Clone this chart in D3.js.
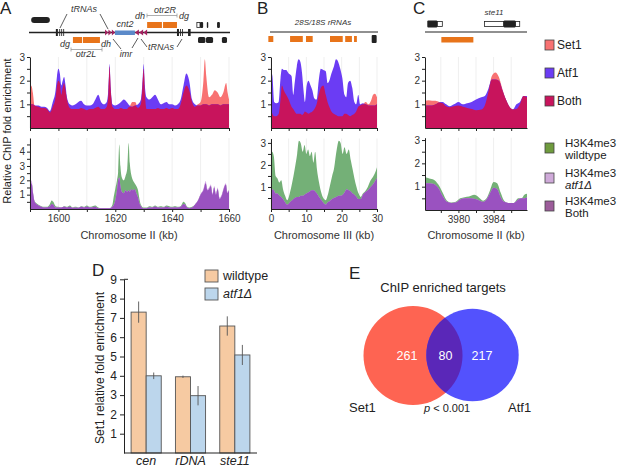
<!DOCTYPE html>
<html>
<head>
<meta charset="utf-8">
<script src="https://cdn.jsdelivr.net/npm/d3@7"></script>
<style>
  body { margin: 0; background: #fff; }
  svg { font-family: "Liberation Sans", Arial, sans-serif; }
</style>
</head>
<body>
<svg id="fig" width="617" height="468"></svg>
<script>
// ---- profile data: [kb, first series, second series] ----
const trackA = [
  [1590,1.0,1.0],[1590.5,1.8,1.0],[1591,1.5,1.0],[1591.6,0.95,0.95],[1593,0.9,0.95],[1594,0.85,0.9],
  [1595,0.85,0.9],[1596,0.8,0.85],[1597,0.65,0.72],[1598,0.9,1.1],[1599,1.3,1.6],[1599.5,1.8,2.2],
  [1600,2.0,2.5],[1600.5,1.9,2.3],[1601,1.4,1.8],[1601.5,1.7,2.0],[1602,1.9,2.15],[1602.5,1.6,1.8],
  [1603,1.2,1.3],[1604,0.85,1.0],[1605,0.8,0.95],[1606,0.8,1.0],[1607,0.8,1.1],[1608,0.85,1.15],
  [1609,0.8,1.0],[1610,0.75,0.95],[1611,0.8,0.95],[1612,0.8,1.0],[1613,0.85,1.2],[1614,0.9,1.4],
  [1615,0.8,1.1],[1616,0.8,1.0],[1617,0.9,1.1],[1617.6,1.5,1.7],[1618,2.6,2.7],[1618.4,1.6,1.7],
  [1619,0.9,1.0],[1620,0.8,0.95],[1621,0.8,1.0],[1622,0.85,1.1],[1623,0.8,1.2],[1624,0.8,1.1],
  [1625,0.9,0.95],[1626,1.1,0.9],[1627,1.1,0.95],[1628,0.85,1.0],[1629,1.0,1.2],[1629.6,1.8,2.0],
  [1630,2.5,2.7],[1630.4,1.5,1.8],[1631,0.8,1.3],[1632,0.8,1.2],[1633,0.8,1.3],[1634,0.8,1.4],
  [1635,0.85,1.2],[1636,0.8,1.0],[1637,0.8,1.05],[1638,0.85,1.1],[1639,0.8,1.0],[1640,0.85,1.0],
  [1641,0.8,0.95],[1642,0.8,1.0],[1643,1.0,1.2],[1644,1.5,1.8],[1645,1.8,2.3],[1646,1.6,2.0],
  [1647,1.1,1.2],[1648,0.9,1.0],[1649,1.0,0.95],[1650,1.1,0.95],[1651,2.0,1.0],[1651.5,2.9,1.0],
  [1652,2.2,1.0],[1653,1.3,0.95],[1654,1.4,1.0],[1655,1.6,1.0],[1656,1.5,1.0],[1657,1.3,0.95],
  [1658,1.5,1.0],[1659,1.9,1.0],[1659.5,1.5,1.0],[1660,1.2,1.0]
];
const trackAh = [
  [1590,1.2,1.4],[1590.6,1.8,2.0],[1591,1.2,1.3],[1591.5,0.6,0.6],[1592,0.45,0.4],[1593,0.3,0.25],
  [1594,0.2,0.15],[1595,0.15,0.1],[1596,0.15,0.12],[1597,0.35,0.2],[1597.6,0.6,0.35],[1598.2,0.5,0.3],
  [1599,0.2,0.1],[1600,0.15,0.1],[1601,0.1,0.1],[1602,0.2,0.15],[1603,0.15,0.1],[1604,0.25,0.15],
  [1605,0.1,0.08],[1606,0.15,0.1],[1607,0.1,0.08],[1608,0.2,0.15],[1609,0.15,0.1],[1610,0.25,0.15],
  [1611,0.15,0.1],[1612,0.2,0.12],[1613,0.25,0.15],[1614,0.1,0.05],[1615,0.05,0.05],[1616,0.05,0.05],
  [1617,0.05,0.05],[1618,0.05,0.05],[1619,0.3,0.15],[1619.5,0.9,0.3],[1620,1.4,0.6],[1620.6,2.0,1.3],
  [1621,2.6,2.0],[1621.4,4.5,2.2],[1621.8,3.0,1.6],[1622.3,2.2,1.2],[1623,2.0,1.1],[1623.6,2.3,1.3],
  [1624.2,2.8,1.2],[1624.7,4.6,1.3],[1625.1,3.2,1.2],[1625.6,2.4,1.4],[1626.2,2.0,1.3],[1626.8,1.8,1.4],
  [1627.4,1.6,1.1],[1628,1.3,0.8],[1628.5,0.7,0.4],[1629,0.3,0.2],[1630,0.1,0.05],[1631,0.1,0.05],
  [1632,0.2,0.1],[1633,0.15,0.1],[1634,0.25,0.15],[1635,0.15,0.1],[1636,0.2,0.1],[1637,0.15,0.1],
  [1638,0.25,0.15],[1639,0.2,0.1],[1640,0.15,0.1],[1641,0.2,0.12],[1642,0.15,0.1],[1643,0.2,0.15],
  [1644,0.5,0.35],[1644.6,0.4,0.3],[1645.3,0.15,0.1],[1646,0.1,0.05],[1647,0.15,0.1],[1648,0.3,0.3],
  [1649,0.55,0.6],[1650,1.0,1.05],[1651,1.3,1.4],[1651.8,1.8,1.95],[1652.4,1.3,1.4],[1653,1.4,1.5],
  [1653.6,1.6,1.7],[1654.2,1.0,1.1],[1654.8,1.5,1.6],[1655.4,1.0,1.1],[1656,1.4,1.5],[1656.7,0.7,0.8],
  [1657.4,0.9,1.0],[1658.3,1.5,1.6],[1658.9,1.7,1.8],[1659.4,1.1,1.2],[1660,1.3,1.3]
];
const trackB = [
  [0,0.8,2.4],[0.4,0.6,2.2],[0.9,0.5,1.1],[1.5,0.5,1.05],[2.2,0.6,1.1],[2.7,1.2,2.1],[3.1,1.8,2.5],
  [3.6,1.6,2.45],[4.3,1.4,2.45],[5,1.2,2.3],[5.8,0.9,2.2],[6.3,0.8,1.4],[6.7,0.7,1.9],[7.3,0.6,2.6],
  [7.8,0.6,2.9],[8.3,0.6,2.8],[8.8,0.55,2.3],[9.2,0.6,1.6],[9.6,0.7,1.1],[10.1,0.65,1.8],[10.6,0.6,2.0],
  [11.2,0.65,1.8],[11.7,0.7,1.6],[12.3,0.8,1.25],[12.9,1.0,1.2],[13.5,1.4,2.0],[14.1,1.7,2.5],
  [14.8,1.8,2.45],[15.5,1.4,2.4],[16,1.1,1.9],[16.5,0.9,2.0],[17.1,0.7,2.3],[17.8,0.6,2.6],[18.4,0.55,2.9],
  [19,0.5,2.8],[19.6,0.5,2.5],[20.2,0.5,2.1],[20.8,0.6,1.4],[21.3,0.6,1.3],[21.8,0.55,1.9],[22.4,0.5,2.0],
  [23,0.55,1.7],[23.6,0.6,1.1],[24.1,0.7,1.0],[24.7,0.9,1.4],[25.2,0.95,1.0],[26,1.0,1.05],[26.8,1.1,1.0],
  [27.6,1.0,0.95],[28.3,1.15,0.95],[28.9,1.4,0.95],[29.4,1.45,0.95],[30,1.3,1.0]
];
const trackBh = [
  [0,2.2,0.8],[0.3,2.6,0.9],[0.8,2.4,0.85],[1.3,1.5,0.7],[1.8,1.4,0.7],[2.4,1.2,0.6],[2.9,1.3,0.55],
  [3.4,0.9,0.45],[4,0.6,0.3],[4.6,0.4,0.2],[5.3,0.7,0.3],[6,1.2,0.4],[6.7,1.8,0.5],[7.4,2.5,0.55],
  [7.9,3.1,0.55],[8.4,3.0,0.6],[9,2.6,0.6],[9.5,2.9,0.65],[10,2.5,0.7],[10.5,2.7,0.75],[11,2.4,0.8],
  [11.5,2.6,0.85],[12,2.1,0.85],[12.5,2.6,0.8],[13,1.8,0.7],[13.6,1.2,0.55],[14.3,0.7,0.4],[15,0.45,0.25],
  [15.5,0.4,0.2],[16,0.6,0.3],[16.6,1.0,0.35],[17.3,1.5,0.45],[17.8,1.8,0.5],[18.5,2.6,0.55],[19.2,3.1,0.6],
  [19.7,3.0,0.6],[20.3,2.5,0.65],[20.8,2.8,0.75],[21.4,2.5,0.9],[22,2.7,0.85],[22.6,2.2,0.8],[23.1,1.8,0.7],
  [23.6,1.4,0.65],[24.2,1.0,0.55],[24.8,0.7,0.45],[25.4,0.55,0.45],[26,0.7,0.65],[26.6,0.8,0.75],
  [27.4,1.0,0.85],[28.2,1.3,1.0],[29,1.5,1.15],[29.6,1.7,1.3],[30,1.9,1.4]
];
const trackC = [
  [3976.2,1.15,0.95],[3976.6,1.17,0.95],[3977,1.15,0.95],[3977.4,1.15,1.0],[3977.8,1.1,1.08],
  [3978.2,1.05,1.1],[3978.6,0.92,1.0],[3979,0.88,0.92],[3979.5,0.92,1.0],[3980,0.95,1.1],[3980.5,0.9,1.0],
  [3981,0.85,1.05],[3981.5,0.8,1.1],[3982,0.75,1.2],[3982.6,0.78,1.3],[3983,0.95,1.35],[3983.4,1.5,1.65],
  [3983.8,2.2,2.05],[3984.2,2.35,2.05],[3984.6,2.15,2.0],[3985,1.65,1.6],[3985.4,1.2,1.2],[3985.8,0.9,0.9],
  [3986.2,0.8,0.78],[3986.6,0.8,1.0],[3987,1.0,1.1],[3987.4,1.35,1.35],[3987.8,1.3,1.35]
];
const trackCh = [
  [3976.2,1.4,1.15],[3976.7,1.35,1.15],[3977.2,1.3,1.12],[3977.7,1.1,0.95],[3978.2,0.75,0.6],
  [3978.7,0.4,0.35],[3979.2,0.32,0.3],[3979.7,0.35,0.32],[3980.2,0.5,0.45],[3980.7,0.55,0.5],
  [3981.2,0.58,0.5],[3981.8,0.65,0.48],[3982.3,0.55,0.42],[3982.8,0.4,0.35],[3983.2,0.5,0.45],
  [3983.6,0.85,0.72],[3984,1.2,0.95],[3984.4,1.15,0.9],[3984.8,0.75,0.55],[3985.2,0.4,0.35],
  [3985.7,0.3,0.3],[3986.3,0.3,0.3],[3986.8,0.5,0.45],[3987.2,0.5,0.5],[3987.5,0.65,0.5],[3987.8,0.7,0.55]
];

// ---- genome map features (kb) ----
const aOrangeBelow = [[1605.1,1608.3],[1608.6,1614.6]];
const aOrangeAbove = [[1631.2,1636.4],[1636.8,1641.7]];
const aTrna = [[1599.1,1599.8],[1600.3,1600.6],[1601.0,1601.3],[1601.7,1602.0],
               [1641.7,1642.4],[1642.8,1643.1],[1643.5,1643.8],[1645.6,1646.5]];
const aRepeatsR = [[1616.4,1617.5],[1617.6,1618.7],[1618.8,1619.9]];
const aRepeatsL = [[1626.9,1628.3],[1628.4,1629.8],[1629.9,1631.2]];
const aCnt = [[1619.9,1626.9]];
const aCapsule = [[1590.4,1597.0]];
const aGenesAbove = [[1649.8,1650.9],[1652.2,1652.7],[1655.8,1656.8]];
const aGenesAboveOpen = [[1648.7,1649.8]];
const aGenesBelow = [[1649.1,1651.7],[1651.9,1654.4],[1657.5,1659.3]];
const bOrange = [[-0.75,0.65],[5.4,9.0],[9.9,11.8],[16.7,20.3],[21.0,22.9],[23.5,24.3]];
const bBlack = [[28.5,29.9]];
const cOrange = [[3978.06,3981.7]];
const cBlack = [[3976.46,3977.6],[3985.14,3986.5]];
const cOpen = [[3977.6,3978.17],[3982.97,3985.14],[3986.5,3986.97]];

// ---- panel D ----
const dCats = ['cen', 'rDNA', 'ste11'];
const dGroups = ['wildtype', 'atf1Δ'];
const dWild = [7.3, 3.95, 6.58];
const dWildErr = [0.55, 0.06, 0.5];
const dAtf = [4.0, 2.97, 5.08];
const dAtfErr = [0.17, 0.5, 0.52];

// ---- panel E ----
const vennCounts = [261, 80, 217];
const vennSets = ['Set1', 'Atf1'];

// ---- legends ----
const chipLegend = ['Set1', 'Atf1', 'Both'];
const chipColors = ['#f87272', '#6b3cf4', '#c8145c'];
const h3Legend = [['H3K4me3', 'wildtype'], ['H3K4me3', 'atf1Δ'], ['H3K4me3', 'Both']];
const h3LegendColors = ['#6f9b3e', '#cfaad9', '#9c5c9a'];
const h3Colors = ['#74b077', '#d6aee6', '#9a52c0'];

const svg = d3.select('#fig');
const ink = '#222';

function track(rows, x, y, colors, xTicks, xLabels, yMax) {
  const g = svg.append('g');
  const [yb, yt] = y.range();
  g.selectAll('line.grid').data(xTicks).join('line')
    .attr('x1', d => x(d)).attr('x2', d => x(d))
    .attr('y1', yb).attr('y2', yt)
    .attr('stroke', '#efefef');
  const area = f => d3.area().curve(d3.curveMonotoneX)
    .x(d => x(d[0])).y0(yb).y1(d => y(f(d)));
  g.append('path').datum(rows).attr('d', area(d => d[1])).attr('fill', colors[0]);
  g.append('path').datum(rows).attr('d', area(d => d[2])).attr('fill', colors[1]);
  g.append('path').datum(rows).attr('d', area(d => Math.min(d[1], d[2]))).attr('fill', colors[2]);

  const yTicks = d3.range(0.5, yMax + 0.01, 0.5);
  const ya = g.append('g').attr('transform', `translate(${x.range()[0]},0)`)
    .call(d3.axisLeft(y).tickValues(yTicks).tickSize(3).tickSizeOuter(0)
      .tickFormat(d => Number.isInteger(d) && d <= 4 ? d : ''));
  const xa = g.append('g').attr('transform', `translate(0,${yb})`)
    .call(d3.axisBottom(x).tickValues(xTicks).tickSize(3).tickSizeOuter(0)
      .tickFormat(d => xLabels.includes(d) ? d : ''));
  [ya, xa].forEach(a => {
    a.select('.domain').attr('stroke', ink);
    a.selectAll('.tick line').attr('stroke', ink);
    a.selectAll('.tick text').attr('fill', '#333').style('font-size', '10px');
  });
  ya.selectAll('.tick text').attr('x', -5);
  return g;
}

// ---- scales ----
const topY = d3.scaleLinear().domain([0, 3]).range([128, 57]);
const xA = d3.scaleLinear().domain([1590, 1660]).range([30, 229]);
const xB = d3.scaleLinear().domain([0, 30]).range([271, 377]);
const xC = d3.scaleLinear().domain([3976.2, 3987.8]).range([425, 527]);
const yAh = d3.scaleLinear().domain([0, 4.95]).range([209, 138]);
const yBh = d3.scaleLinear().domain([0, 3.2]).range([209, 138.5]);
const yCh = d3.scaleLinear().domain([0, 3.1]).range([210, 137.7]);

const ticksA = d3.range(1590, 1661, 10);
const ticksB = d3.range(0, 31, 5);
const ticksC = d3.range(3978, 3987, 2);

track(trackA, xA, topY, chipColors, ticksA, [], 3);
track(trackB, xB, topY, chipColors, ticksB, [], 3);
track(trackC, xC, topY, chipColors, ticksC, [], 3);
track(trackAh, xA, yAh, h3Colors, ticksA, [1600, 1620, 1640, 1660], 4.5);
track(trackBh, xB, yBh, h3Colors, ticksB, [0, 10, 20, 30], 3);
track(trackCh, xC, yCh, h3Colors, ticksC, [3980, 3984], 3);

const txt = (x, y, s, size, opts = {}) => svg.append('text')
  .attr('x', x).attr('y', y).text(s)
  .attr('fill', opts.fill || '#222')
  .attr('text-anchor', opts.anchor || 'start')
  .style('font-size', size + 'px')
  .style('font-style', opts.italic ? 'italic' : 'normal');

txt(129, 239, 'Chromosome II (kb)', 11, { anchor: 'middle', fill: '#333' });
txt(324, 239, 'Chromosome III (kb)', 11, { anchor: 'middle', fill: '#333' });
txt(476, 239, 'Chromosome II (kb)', 11, { anchor: 'middle', fill: '#333' });
svg.append('text').attr('transform', 'translate(11,131) rotate(-90)')
  .attr('text-anchor', 'middle').style('font-size', '11px').attr('fill', '#222')
  .text('Relative ChIP fold enrichment');

// panel letters
[['A', 0, 14], ['B', 257, 14], ['C', 413, 14], ['D', 92, 276], ['E', 349, 279]].forEach(([l, x, y]) =>
  txt(x, y, l, 17));

// ---- genome maps ----
function blocks(data, x, y0, h, fill, stroke, rx) {
  svg.append('g').selectAll('rect').data(data).join('rect')
    .attr('x', d => x(d[0])).attr('width', d => x(d[1]) - x(d[0]))
    .attr('y', y0).attr('height', h)
    .attr('fill', fill).attr('stroke', stroke || 'none').attr('stroke-width', 0.8)
    .attr('rx', rx || 0);
}
const hline = (x1, x2, y, color, w) => svg.append('line')
  .attr('x1', x1).attr('x2', x2).attr('y1', y).attr('y2', y)
  .attr('stroke', color).attr('stroke-width', w);
const seg = (x1, y1, x2, y2, color) => svg.append('line')
  .attr('x1', x1).attr('y1', y1).attr('x2', x2).attr('y2', y2)
  .attr('stroke', color || '#333').attr('stroke-width', 0.8);

// A
hline(29, 230, 32.5, '#222', 1.3);
blocks(aOrangeBelow, xA, 37, 6, '#e8741a');
blocks(aOrangeAbove, xA, 22, 6, '#e8741a');
blocks(aTrna, xA, 29, 7, '#222');
blocks(aCnt, xA, 30.5, 4.5, '#5b8ac9');
svg.append('g').selectAll('path').data(aRepeatsR).join('path')
  .attr('d', d => `M${xA(d[0])},29.5 L${xA(d[1])},32.5 L${xA(d[0])},35.5 Z`).attr('fill', '#a3205f');
svg.append('g').selectAll('path').data(aRepeatsL).join('path')
  .attr('d', d => `M${xA(d[1])},29.5 L${xA(d[0])},32.5 L${xA(d[1])},35.5 Z`).attr('fill', '#a3205f');
blocks(aCapsule, xA, 17, 6, '#222', null, 3);
blocks(aGenesAbove, xA, 22, 6, '#222', null, 1);
blocks(aGenesAboveOpen, xA, 22.5, 5, '#fff', '#222');
blocks(aGenesBelow, xA, 37, 6, '#222', null, 1.5);

const lab = (x, y, s) => txt(x, y, s, 9, { anchor: 'middle', italic: true, fill: '#333' });
lab(84, 12, 'tRNAs'); seg(60, 28, 67, 14); seg(100, 14, 108, 29);
lab(125, 27, 'cnt2');
lab(65, 47, 'dg'); lab(106, 47, 'dh');
hline(71, 102, 49.5, '#999', 0.8); seg(71, 47.5, 71, 51.5, '#999'); seg(102, 47.5, 102, 51.5, '#999');
lab(86, 57, 'otr2L');
lab(126, 57, 'imr'); seg(113, 39, 121, 49); seg(138, 38, 132, 48);
lab(161, 50, 'tRNAs'); seg(141, 39, 147, 47); seg(182, 39, 177, 47);
lab(140, 19, 'dh'); lab(165, 13, 'otr2R'); lab(184, 19, 'dg');
hline(147, 177, 15.5, '#999', 0.8); seg(147, 13.5, 147, 17.5, '#999'); seg(177, 13.5, 177, 17.5, '#999');

// B
txt(323, 25, '28S/18S rRNAs', 8, { anchor: 'middle', italic: true, fill: '#333' });
hline(270, 378, 32, '#222', 1.2);
blocks(bOrange, xB, 36, 6, '#e8741a');
blocks(bBlack, xB, 35, 8, '#222', null, 1);

// C
hline(425, 527, 32, '#222', 1.2);
blocks(cOpen, xC, 21.5, 5, '#fff', '#222');
blocks(cBlack, xC, 20.5, 7, '#222', null, 1);
blocks(cOrange, xC, 37, 5.5, '#e8741a');
txt(494, 15, 'ste11', 8, { anchor: 'middle', italic: true, fill: '#333' });

// ---- legends right ----
chipLegend.forEach((s, i) => {
  const y = [40, 68, 96][i];
  svg.append('rect').attr('x', 545).attr('y', y).attr('width', 9).attr('height', 10)
    .attr('fill', chipColors[i]).attr('stroke', '#444').attr('stroke-width', 0.8);
  txt(557, y + 9, s, 12);
});
h3Legend.forEach((s, i) => {
  const y = [143, 173, 201][i];
  svg.append('rect').attr('x', 545).attr('y', y).attr('width', 9).attr('height', 10)
    .attr('fill', h3LegendColors[i]).attr('stroke', '#444').attr('stroke-width', 0.8);
  txt(565, y + 4, s[0], 11.5);
  txt(565, y + 16, s[1], 11.5, { italic: s[1] === 'atf1Δ' });
});

// ---- panel D ----
const dY = d3.scaleLinear().domain([0, 9]).range([453, 279.3]);
const dX = d3.scaleBand().domain(dCats).range([124, 257]).paddingInner(0.32).paddingOuter(0.16);
const dX1 = d3.scaleBand().domain(dGroups).range([0, dX.bandwidth()]);
const dFill = d3.scaleOrdinal().domain(dGroups).range(['#f6caa2', '#bcd6ec']);
const dRows = dCats.flatMap((c, i) => [
  { c, g: dGroups[0], v: dWild[i], e: dWildErr[i] },
  { c, g: dGroups[1], v: dAtf[i], e: dAtfErr[i] }
]);
const dg = svg.append('g');
dg.selectAll('rect').data(dRows).join('rect')
  .attr('x', d => dX(d.c) + dX1(d.g)).attr('width', dX1.bandwidth())
  .attr('y', d => dY(d.v)).attr('height', d => dY(0) - dY(d.v))
  .attr('fill', d => dFill(d.g)).attr('stroke', '#555').attr('stroke-width', 0.9);
dg.selectAll('line.err').data(dRows).join('line')
  .attr('x1', d => dX(d.c) + dX1(d.g) + dX1.bandwidth() / 2)
  .attr('x2', d => dX(d.c) + dX1(d.g) + dX1.bandwidth() / 2)
  .attr('y1', d => dY(d.v - d.e)).attr('y2', d => dY(d.v + d.e))
  .attr('stroke', '#555').attr('stroke-width', 0.9);
const dya = dg.append('g').attr('transform', 'translate(124,0)')
  .call(d3.axisLeft(dY).tickValues(d3.range(1, 10)).tickSize(4).tickSizeOuter(0));
dya.select('.domain').attr('stroke', ink);
dya.selectAll('.tick line').attr('stroke', ink);
dya.selectAll('.tick text').attr('fill', '#222').style('font-size', '12px');
dg.append('line').attr('x1', 124).attr('x2', 257).attr('y1', dY(0)).attr('y2', dY(0)).attr('stroke', ink);
dg.append('line').attr('x1', 124).attr('x2', 128).attr('y1', dY(9)).attr('y2', dY(9)).attr('stroke', ink);
dCats.forEach(c => txt(dX(c) + dX.bandwidth() / 2, 464.5, c, 12.5, { anchor: 'middle', italic: true }));
svg.append('text').attr('transform', 'translate(104,368) rotate(-90)')
  .attr('text-anchor', 'middle').style('font-size', '12px').attr('fill', '#222')
  .text('Set1 relative fold enrichment');
dGroups.forEach((s, i) => {
  const y = 270 + i * 18;
  svg.append('rect').attr('x', 205).attr('y', y).attr('width', 13).attr('height', 12)
    .attr('fill', dFill(s)).attr('stroke', '#555').attr('stroke-width', 0.9);
  txt(223, y + 10, s, 12.5, { italic: i === 1 });
});

// ---- panel E ----
const rScale = d3.scaleSqrt().domain([0, vennCounts[0] + vennCounts[1]]).range([0, 49.5]);
const rSet1 = rScale(vennCounts[0] + vennCounts[1]);
const rAtf1 = rScale(vennCounts[2] + vennCounts[1]);
const c1 = [413, 355.5], c2 = [472.5, 355];
svg.append('defs').append('clipPath').attr('id', 'clipSet1')
  .append('circle').attr('cx', c1[0]).attr('cy', c1[1]).attr('r', rSet1);
svg.append('circle').attr('cx', c1[0]).attr('cy', c1[1]).attr('r', rSet1).attr('fill', '#fe6452');
svg.append('circle').attr('cx', c2[0]).attr('cy', c2[1]).attr('r', rAtf1).attr('fill', '#5352fd');
svg.append('circle').attr('cx', c2[0]).attr('cy', c2[1]).attr('r', rAtf1)
  .attr('clip-path', 'url(#clipSet1)').attr('fill', '#5a27b8');
[407, 445.5, 482].forEach((x, i) =>
  txt(x, 359.5, vennCounts[i], 12.5, { anchor: 'middle', fill: '#fff' }));
txt(443, 292, 'ChIP enriched targets', 13, { anchor: 'middle' });
txt(349, 412, vennSets[0], 13);
txt(508, 412, vennSets[1], 13);
const p = txt(424, 412, '', 11);
p.append('tspan').style('font-style', 'italic').text('p');
p.append('tspan').text(' < 0.001');
</script>
</body>
</html>
